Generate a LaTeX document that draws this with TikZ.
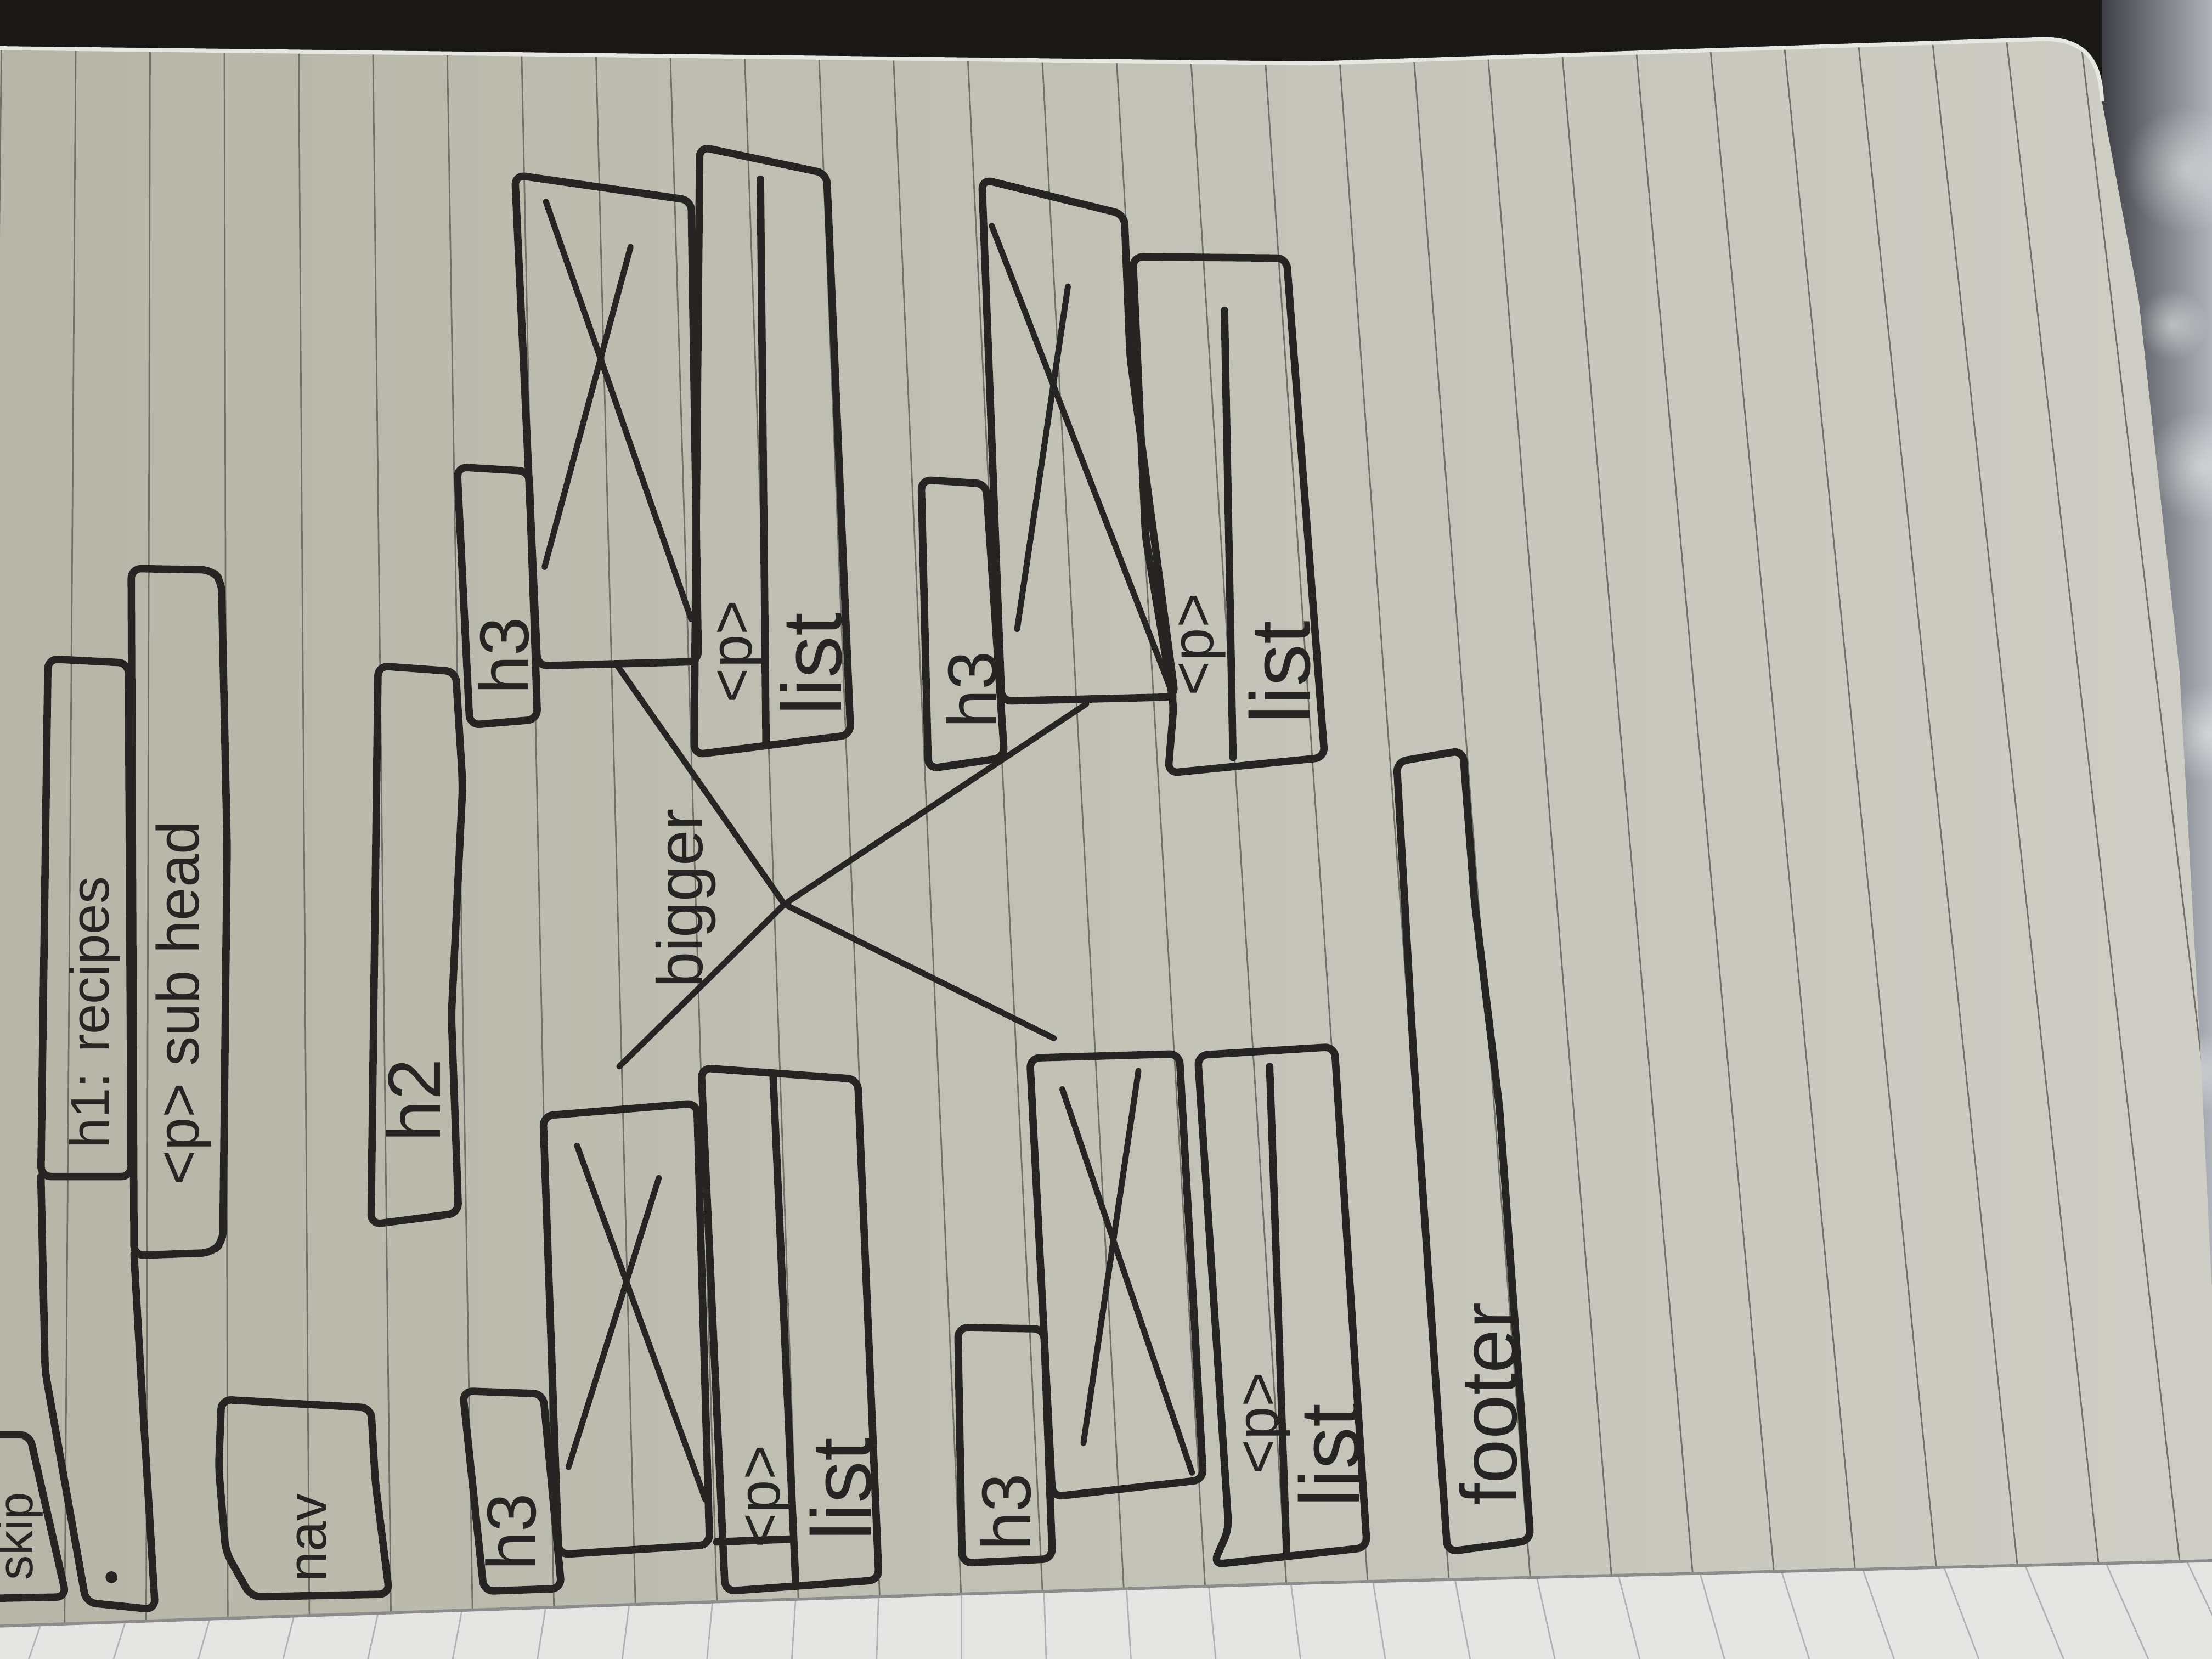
\documentclass[tikz,border=0pt]{standalone}
\usepackage{fontspec}
\setmainfont{Liberation Sans}
\usepackage{tikz}
\usetikzlibrary{positioning,fadings}
\definecolor{inkgrey}{RGB}{38,37,35}
\definecolor{paperleft}{RGB}{182,181,167}
\definecolor{paperright}{RGB}{206,206,198}
\definecolor{rulegrey}{RGB}{112,112,104}
\definecolor{deskdark}{RGB}{26,24,22}
\definecolor{fluffdark}{RGB}{62,64,70}
\definecolor{flufflight}{RGB}{176,180,186}
\definecolor{nextpage}{RGB}{229,230,228}
\tikzstyle{pen} = [draw=inkgrey, line width=1.5pt, line join=round, line cap=round, rounded corners=2pt]
\tikzstyle{cross} = [draw=inkgrey, line width=1.2pt, line cap=round]
\tikzstyle{ruled} = [draw=rulegrey, line width=0.3pt]
\tikzstyle{fluff} = [fill=white, opacity=0.45, path fading=fuzzy]
\tikzstyle{lbl} = [rotate=90, anchor=west, inner sep=0pt, text=inkgrey, font=\fontsize{12}{14}\selectfont]
\tikzstyle{htag} = [lbl, font=\fontsize{14}{16}\selectfont]
\tikzstyle{ptag} = [lbl]
\tikzstyle{listtag} = [lbl, font=\fontsize{17}{19}\selectfont]
\tikzfading[name=fuzzy, inner color=transparent!0, outer color=transparent!100]

\begin{document}
\begin{tikzpicture}[x=0.01cm, y=-0.01cm]
\useasboundingbox (0,0) rectangle (1568,1176);
\clip (0,0) rectangle (1568,1176);

% Desk and blanket
\fill[deskdark] (0,0) rectangle (1568,1176);
\shade[left color=fluffdark, right color=flufflight] (1490,0) rectangle (1568,1000);
\fill[fluff] (1550,120) circle (45);
\fill[fluff] (1560,330) circle (40);
\fill[fluff] (1540,230) circle (25);
\fill[fluff] (1565,520) circle (35);
\fill[fluff] (1555,760) circle (30);

% Next page
\fill[nextpage] (-10,1095) rectangle (1580,1180);
\foreach \j in {-17,...,10} {
  \pgfmathsetmacro\wa{974+58.5*\j}
  \pgfmathsetmacro\wb{\wa+8+1.6*\j}
  \pgfmathsetmacro\wc{\wa-0.7*(8+1.6*\j)}
  \draw[ruled, draw=gray!60] (\wc,1090) -- (\wb,1176);
}

% Notebook page
\begin{scope}
\clip (-10,34) -- (930,45) -- (1440,28) .. controls (1478,25) and (1489,42) .. (1490,72) -- (1516,212) -- (1545,476) -- (1560,750) -- (1572,1000) -- (1580,1106) -- (933,1122) -- (490,1136) -- (-10,1153) -- cycle;
\shade[left color=paperleft, right color=paperright] (-10,0) rectangle (1580,1176);
\foreach \k in {-18,...,10} {
  \pgfmathsetmacro\xtop{948+52.6*\k}
  \pgfmathsetmacro\xbot{1030+57.9*\k}
  \draw[ruled] (\xtop,20) -- (\xbot,1160);
}
\end{scope}
\draw[paperright!50!white, line width=0.8pt] (-10,34) -- (930,45) -- (1440,28) .. controls (1478,25) and (1489,42) .. (1490,72);
\draw[black!45, line width=0.6pt] (-10,1153) -- (490,1136) -- (933,1122) -- (1580,1106);

% Header
\draw[pen] (-5,1017) -- (21,1017) -- (47,1132) -- (-5,1133);
\node[lbl, font=\fontsize{10}{12}\selectfont] (skip) at (14,1121) {skip};
\draw[pen] (34,467) -- (91,470) -- (93,834) -- (29,834) -- cycle;
\draw[pen] (29,834) -- (32,972) -- (61,1136) -- (110,1141) -- (99,960) -- (95,889);
\fill[inkgrey] (79,1118) circle (1.2pt);
\node[lbl, font=\fontsize{11}{13}\selectfont] (title) at (67,815) {h1: recipes};
\draw[pen] (93,403) -- (150,404) -- (157,412) -- (161,600) -- (158,880) -- (150,888) -- (95,890) -- cycle;
\node[lbl] (subhead) at (130,841) {<p> sub head};

% Nav
\draw[pen] (157,992) -- (263,998) -- (266,1050) -- (276,1130) -- (178,1132) -- (160,1100) -- (155,1040) -- cycle;
\node[lbl, font=\fontsize{11}{13}\selectfont] (nav) at (221,1122) {nav};

% h2
\draw[pen] (268,472) -- (323,476) -- (328,556) -- (320,720) -- (325,860) -- (263,868) -- cycle;
\node[lbl, font=\fontsize{15}{17}\selectfont] (heading) at (293,810) {h2};

% Card 1
\draw[pen] (324,331) -- (375,334) -- (381,510) -- (333,514) -- cycle;
\draw[pen] (365,124) -- (490,142) -- (495,469) -- (381,472) -- cycle;
\draw[cross] (387,143) -- (490,439);
\draw[cross] (447,175) -- (386,402);
\draw[pen] (496,104) -- (586,123) -- (603,521) -- (492,535) -- cycle;
\draw[pen] (539,127) -- (543,526);
\node[htag] (hthreea) at (357,493) {h3};
\node[ptag] (parta) at (525,499) {<p>};
\node[listtag] (lista) at (575,508) {list};

% Card 2
\draw[pen] (653,340) -- (699,343) -- (712,537) -- (658,545) -- cycle;
\draw[pen] (696,127) -- (797,152) -- (801,252) -- (833,494) -- (710,497) -- cycle;
\draw[cross] (703,160) -- (832,494);
\draw[cross] (757,203) -- (721,446);
\draw[pen] (803,182) -- (912,183) -- (939,537) -- (828,548) -- (832,500) -- (812,380) -- cycle;
\draw[pen] (868,220) -- (874,537);
\node[htag] (hthreeb) at (689,517) {h3};
\node[ptag] (partb) at (852,494) {<p>};
\node[listtag] (listb) at (907,514) {list};

% Bigger
\coordinate (bigmid) at (556,641);
\draw[cross] (437,471) -- (bigmid) -- (747,736);
\draw[cross] (770,499) -- (bigmid) -- (439,756);
\node[lbl, font=\fontsize{13}{15}\selectfont] (bigger) at (486,701) {bigger};

% Card 3
\draw[pen] (328,986) -- (385,988) -- (398,1126) -- (343,1128) -- cycle;
\draw[pen] (385,791) -- (494,782) -- (503,1095) -- (396,1102) -- cycle;
\draw[cross] (409,812) -- (500,1063);
\draw[cross] (467,835) -- (403,1040);
\draw[pen] (497,757) -- (608,765) -- (623,1120) -- (514,1128) -- cycle;
\draw[pen] (548,762) -- (564,1122);
\draw[pen] (508,1093) -- (561,1091);
\node[htag] (hthreec) at (362,1114) {h3};
\node[ptag] (partc) at (545,1098) {<p>};
\node[listtag] (listc) at (596,1093) {list};

% Card 4
\draw[pen] (679,941) -- (740,942) -- (746,1105) -- (682,1108) -- cycle;
\draw[pen] (730,750) -- (836,747) -- (853,1049) -- (746,1061) -- cycle;
\draw[cross] (753,772) -- (845,1044);
\draw[cross] (807,759) -- (768,1023);
\draw[pen] (849,748) -- (946,742) -- (969,1097) -- (860,1109) -- (871,1084) -- cycle;
\draw[pen] (900,756) -- (912,1100);
\node[htag] (hthreed) at (713,1100) {h3};
\node[ptag] (partd) at (898,1046) {<p>};
\node[listtag] (listd) at (942,1069) {list};

% Footer
\draw[pen] (990,540) -- (1037,532) -- (1045,637) -- (1063,786) -- (1085,1092) -- (1026,1100) -- (1002,748) -- cycle;
\node[lbl, font=\fontsize{16}{18}\selectfont] (footer) at (1055,1068) {footer};
\end{tikzpicture}
\end{document}
